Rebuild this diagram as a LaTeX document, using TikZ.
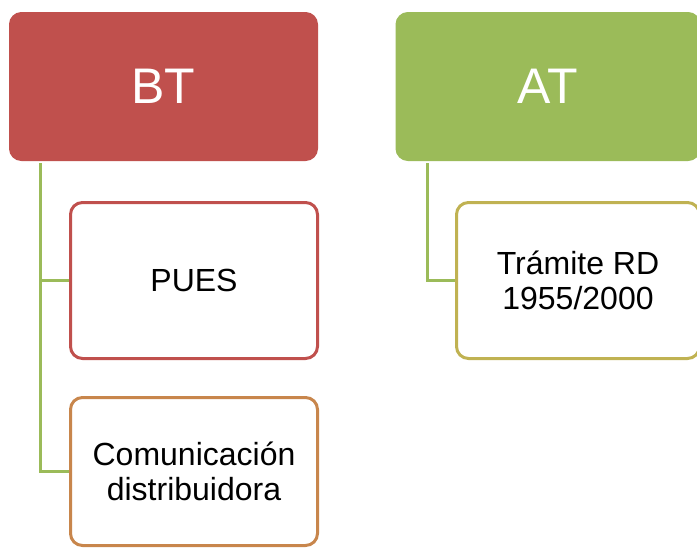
\documentclass[tikz,border=0pt]{standalone}
\usepackage{fontspec}
\setmainfont{Liberation Sans}
\definecolor{bred}{RGB}{192,80,77}
\definecolor{agreen}{RGB}{155,187,89}
\definecolor{corange}{RGB}{200,134,76}
\definecolor{tolive}{RGB}{192,178,82}
\tikzset{
  head/.style={fill=#1, draw=#1, line width=1pt, rounded corners=12pt, text=white,
    font=\fontsize{50}{56}\selectfont, inner sep=0pt},
  child/.style={draw=#1, fill=white, line width=3pt, rounded corners=12pt, text=black,
    font=\fontsize{32}{35}\selectfont, align=center, inner sep=0pt},
  conn/.style={draw=agreen, line width=3pt}
}
\begin{document}
\begin{tikzpicture}[x=1pt,y=-1pt]
\useasboundingbox (0,0) rectangle (697,547);
\fill[white] (0,0) rectangle (697,547);
% heads
\node[head=bred, minimum width=308pt, minimum height=148pt] (BT) at (163.5,86.5) {BT};
\node[head=agreen, minimum width=304pt, minimum height=148pt] (AT) at (548,86.5) {AT};
\coordinate (bt0) at (40,163);
\coordinate (at0) at (427,163);
% connectors
\draw[conn] (bt0) |- (194,280.5);
\draw[conn] (bt0) |- (194,471.5);
\draw[conn] (at0) |- (578,280.5);
% children
\node[child=bred, minimum width=247pt, minimum height=156pt] (PUES) at (194,280.5) {PUES};
\node[child=corange, minimum width=247pt, minimum height=148pt] (COM) at (194,471.5) {Comunicación\\distribuidora};
\node[child=tolive, minimum width=243pt, minimum height=156pt] (TRA) at (578,280.5) {Trámite RD\\1955/2000};
\end{tikzpicture}
\end{document}
